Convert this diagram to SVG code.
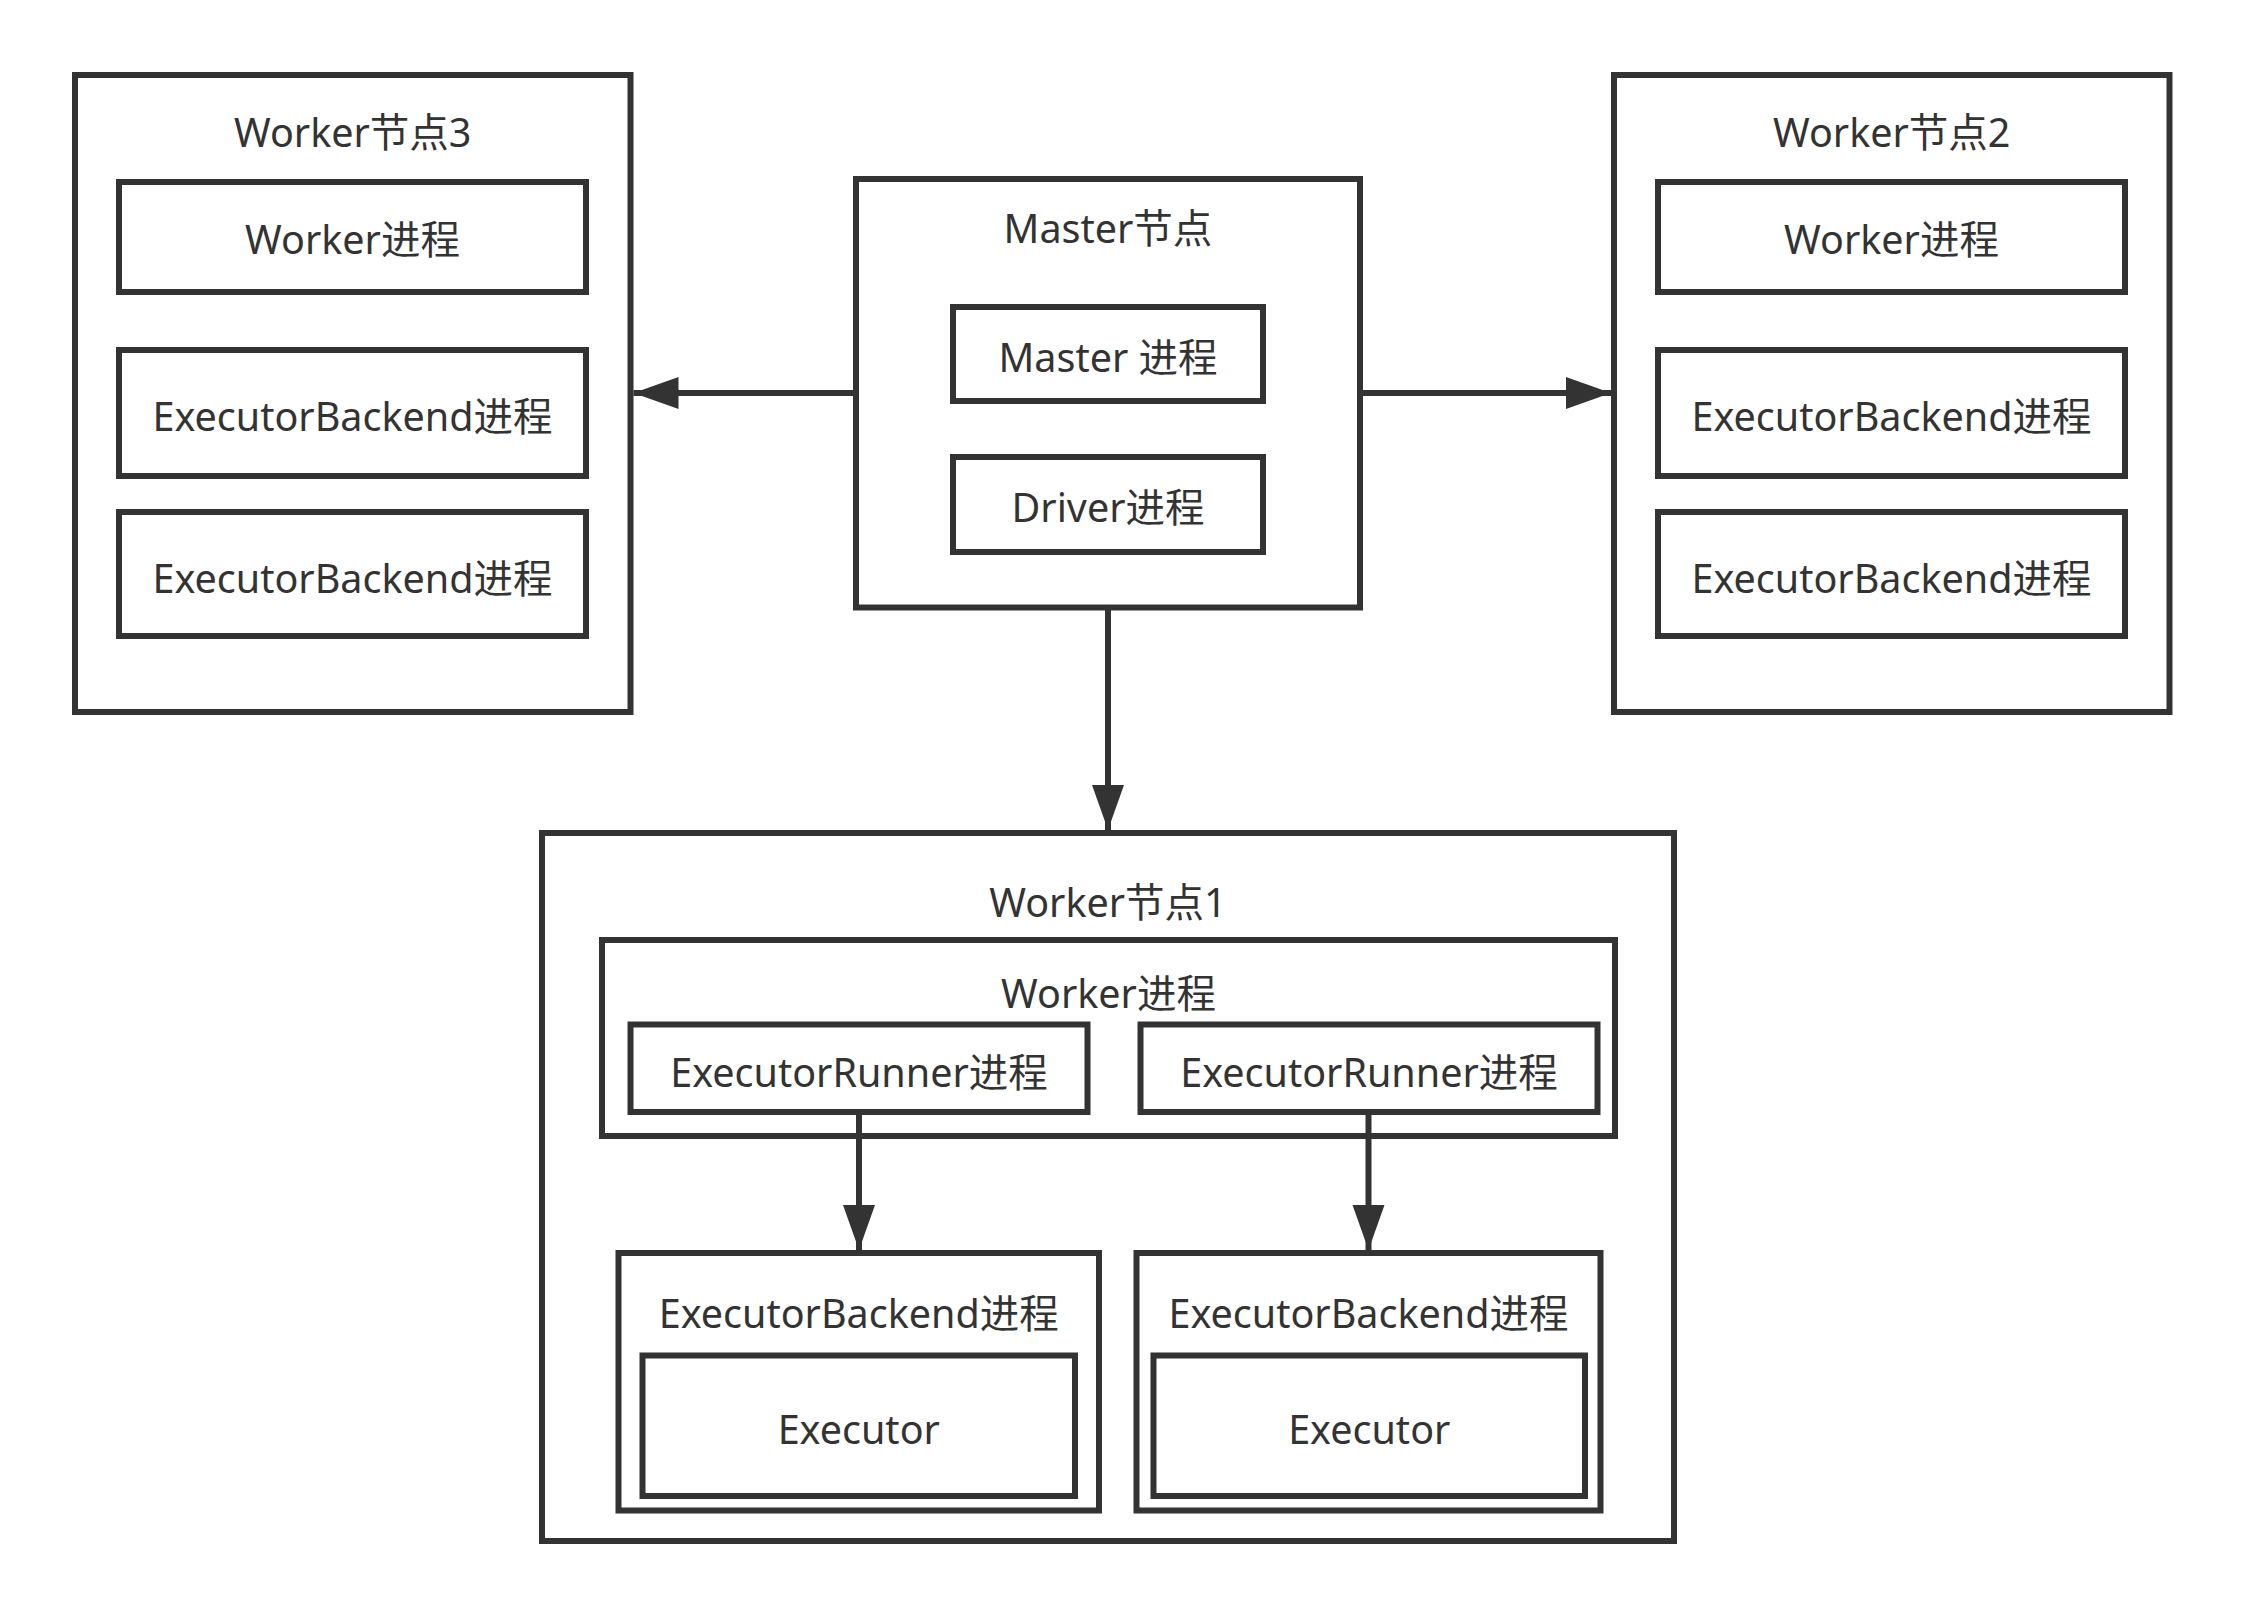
<svg xmlns="http://www.w3.org/2000/svg" width="2247" height="1616" viewBox="0 0 2247 1616">
  <style>
    .box { fill: #ffffff; stroke: #333333; stroke-width: 6; }
    .lbl { font-family: "Noto Sans", "Noto Sans CJK SC", sans-serif; font-size: 39.5px; fill: #333333; text-anchor: middle; }
    .edge { stroke: #333333; stroke-width: 6; fill: none; }
  </style>
  <defs>
    <marker id="arrow" markerUnits="userSpaceOnUse" markerWidth="46" markerHeight="34" viewBox="0 0 46 34" refX="45" refY="17" orient="auto">
      <path d="M0,1 L45,17 L0,33 Z" fill="#333333"/>
    </marker>
  </defs>
  <rect width="2247" height="1616" fill="#ffffff"/>

  <!-- Worker node 3 -->
  <g id="worker3">
    <rect class="box" x="75" y="75" width="555.5" height="637"/>
    <text class="lbl" x="352.75" y="147">Worker节点3</text>
    <g id="worker3-worker">
      <rect class="box" x="119" y="182" width="467" height="110"/>
      <text class="lbl" x="352.5" y="254">Worker进程</text>
    </g>
    <g id="worker3-backend1">
      <rect class="box" x="119" y="350" width="467" height="126"/>
      <text class="lbl" x="352.5" y="431">ExecutorBackend进程</text>
    </g>
    <g id="worker3-backend2">
      <rect class="box" x="119" y="512" width="467" height="124"/>
      <text class="lbl" x="352.5" y="593">ExecutorBackend进程</text>
    </g>
  </g>

  <!-- Worker node 2 -->
  <g id="worker2">
    <rect class="box" x="1614" y="75" width="555.5" height="637"/>
    <text class="lbl" x="1891.75" y="147">Worker节点2</text>
    <g id="worker2-worker">
      <rect class="box" x="1658" y="182" width="467" height="110"/>
      <text class="lbl" x="1891.5" y="254">Worker进程</text>
    </g>
    <g id="worker2-backend1">
      <rect class="box" x="1658" y="350" width="467" height="126"/>
      <text class="lbl" x="1891.5" y="431">ExecutorBackend进程</text>
    </g>
    <g id="worker2-backend2">
      <rect class="box" x="1658" y="512" width="467" height="124"/>
      <text class="lbl" x="1891.5" y="593">ExecutorBackend进程</text>
    </g>
  </g>

  <!-- Master node -->
  <g id="master">
    <rect class="box" x="856" y="179" width="504" height="428.5"/>
    <text class="lbl" x="1108" y="243">Master节点</text>
    <g id="master-process">
      <rect class="box" x="953" y="307" width="310" height="94"/>
      <text class="lbl" x="1108" y="372">Master 进程</text>
    </g>
    <g id="driver-process">
      <rect class="box" x="953" y="457" width="310" height="95"/>
      <text class="lbl" x="1108" y="522">Driver进程</text>
    </g>
  </g>

  <!-- Worker node 1 -->
  <g id="worker1">
    <rect class="box" x="542" y="833" width="1132" height="708"/>
    <text class="lbl" x="1108" y="917">Worker节点1</text>
    <g id="worker1-worker">
      <rect class="box" x="602" y="940" width="1013" height="196"/>
      <text class="lbl" x="1108.5" y="1008">Worker进程</text>
    </g>
    <g id="runner1">
      <rect class="box" x="630.5" y="1024.5" width="457" height="87.5"/>
      <text class="lbl" x="859" y="1087">ExecutorRunner进程</text>
    </g>
    <g id="runner2">
      <rect class="box" x="1140.5" y="1024.5" width="457" height="87.5"/>
      <text class="lbl" x="1369" y="1087">ExecutorRunner进程</text>
    </g>
    <g id="backend1">
      <rect class="box" x="618.5" y="1253" width="480.5" height="257.5"/>
      <text class="lbl" x="858.75" y="1328">ExecutorBackend进程</text>
      <g id="executor1">
        <rect class="box" x="642.5" y="1355.5" width="432.5" height="140.5"/>
        <text class="lbl" x="858.75" y="1444">Executor</text>
      </g>
    </g>
    <g id="backend2">
      <rect class="box" x="1136.5" y="1253" width="464" height="257.5"/>
      <text class="lbl" x="1368.5" y="1328">ExecutorBackend进程</text>
      <g id="executor2">
        <rect class="box" x="1153.5" y="1355.5" width="431.5" height="140.5"/>
        <text class="lbl" x="1369.25" y="1444">Executor</text>
      </g>
    </g>
  </g>

  <!-- Connectors -->
  <g id="connectors">
    <line class="edge" x1="856" y1="393" x2="633.5" y2="393" marker-end="url(#arrow)"/>
    <line class="edge" x1="1360" y1="393" x2="1611" y2="393" marker-end="url(#arrow)"/>
    <line class="edge" x1="1108" y1="607.5" x2="1108" y2="830" marker-end="url(#arrow)"/>
    <line class="edge" x1="859" y1="1112" x2="859" y2="1250" marker-end="url(#arrow)"/>
    <line class="edge" x1="1368.5" y1="1112" x2="1368.5" y2="1250" marker-end="url(#arrow)"/>
  </g>
</svg>
